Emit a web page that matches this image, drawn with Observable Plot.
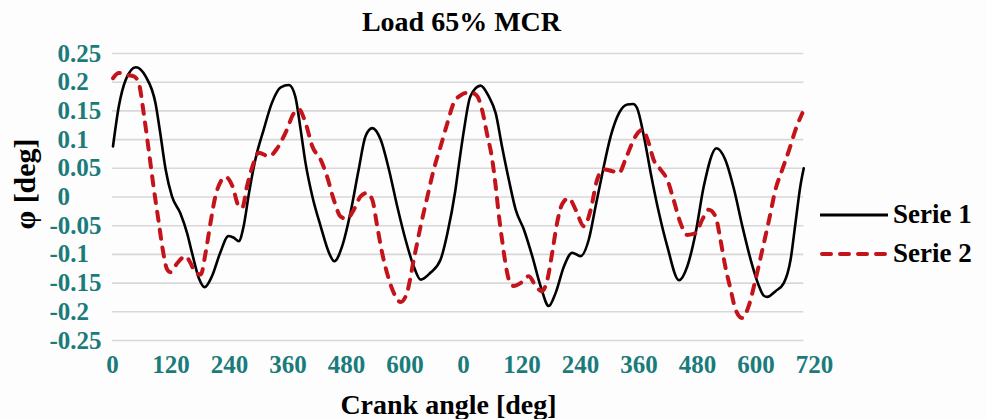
<!DOCTYPE html>
<html>
<head>
<meta charset="utf-8">
<script src="https://cdn.jsdelivr.net/npm/d3@7"></script>
<script src="https://cdn.jsdelivr.net/npm/@observablehq/plot@0.6"></script>
<style>
  body { margin: 0; background: #ffffff; }
  #chart {
    position: relative; width: 987px; height: 419px; background: #fdfdfd;
    font-family: "Liberation Serif", "Times New Roman", serif; font-weight: bold;
  }
  #title {
    height: 40px; width: 923px; text-align: center;
    font-size: 28px; line-height: 40px; padding-top: 2px; box-sizing: border-box; color: #000;
  }
  #legend { position: absolute; left: 820px; top: 195px; }
  .item { display: flex; align-items: center; height: 39px; font-size: 27px; color: #000; }
  .item svg { margin-right: 5px; }
</style>
</head>
<body>
<div id="chart">
  <div id="title">Load 65% MCR</div>
  <div id="legend"></div>
</div>
<script>
// Torsional angle φ over two engine cycles (crank angle restarts at 0 after 720°)
const angle1 = [1, 13, 27, 48, 68, 88, 98, 109, 122, 139, 153, 163, 177, 189, 204, 221, 238, 249, 259, 269,
  280, 293, 310, 327, 345, 362, 375, 386, 396, 410, 427, 444, 455, 471, 488, 505, 519, 533, 550, 567,
  584, 601, 618, 632, 652, 673, 687, 703, 710, 721, 734, 755, 772, 786, 799, 813, 827, 844, 861, 878,
  895, 909, 926, 943, 960, 977, 991, 1005, 1022, 1039, 1056, 1068, 1076, 1090, 1104, 1121, 1138, 1162, 1179, 1196,
  1213, 1239, 1257, 1275, 1292, 1309, 1326, 1336, 1343, 1360, 1377, 1391, 1401, 1411, 1418];
const serie1 = [0.088, 0.158, 0.204, 0.226, 0.21, 0.164, 0.111, 0.048, 0.001, -0.028, -0.063, -0.097, -0.141, -0.157, -0.138, -0.097, -0.068, -0.071, -0.077, -0.051,
  0.007, 0.065, 0.117, 0.164, 0.191, 0.195, 0.175, 0.117, 0.059, 0.001, -0.051, -0.097, -0.112, -0.086, -0.028, 0.048, 0.106, 0.12, 0.1, 0.048,
  -0.016, -0.074, -0.121, -0.144, -0.132, -0.109, -0.063, 0.01, 0.053, 0.117, 0.175, 0.194, 0.175, 0.146, 0.088, 0.03, -0.022, -0.057, -0.103, -0.155,
  -0.19, -0.167, -0.121, -0.097, -0.103, -0.074, -0.016, 0.042, 0.106, 0.146, 0.161, 0.162, 0.155, 0.106, 0.042, -0.028, -0.086, -0.145, -0.121, -0.063,
  0.019, 0.085, 0.065, 0.013, -0.051, -0.109, -0.155, -0.172, -0.174, -0.164, -0.15, -0.109, -0.045, 0.019, 0.05];

const angle2 = [1, 13, 27, 44, 54, 64, 75, 85, 95, 102, 112, 119, 133, 150, 160, 170, 181, 191, 201, 211,
  222, 232, 246, 259, 266, 276, 287, 300, 321, 338, 356, 372, 382, 396, 410, 427, 440, 454, 468, 481,
  495, 509, 522, 533, 543, 553, 563, 577, 591, 604, 618, 632, 646, 659, 673, 687, 700, 714, 724, 738,
  748, 758, 768, 779, 786, 792, 799, 806, 813, 823, 837, 854, 868, 881, 892, 902, 912, 922, 936, 950,
  967, 981, 994, 1008, 1025, 1039, 1052, 1066, 1073, 1087, 1100, 1110, 1124, 1138, 1151, 1165, 1179, 1196, 1210, 1223,
  1237, 1247, 1257, 1268, 1278, 1292, 1305, 1319, 1333, 1347, 1360, 1374, 1388, 1401, 1415];
const serie2 = [0.207, 0.216, 0.213, 0.21, 0.198, 0.146, 0.077, 0.013, -0.045, -0.086, -0.126, -0.131, -0.115, -0.103, -0.115, -0.132, -0.135, -0.097, -0.045, 0.001,
  0.027, 0.035, 0.019, -0.016, -0.019, 0.019, 0.053, 0.077, 0.071, 0.085, 0.114, 0.146, 0.153, 0.129, 0.088, 0.065, 0.036, -0.005, -0.034, -0.038,
  -0.022, 0.001, 0.007, -0.005, -0.051, -0.097, -0.132, -0.167, -0.183, -0.167, -0.109, -0.051, 0.001, 0.048, 0.088, 0.129, 0.164, 0.177, 0.181, 0.181,
  0.176, 0.152, 0.111, 0.065, 0.019, -0.028, -0.074, -0.115, -0.144, -0.155, -0.15, -0.138, -0.155, -0.164, -0.144, -0.097, -0.045, -0.013, -0.002, -0.022,
  -0.051, -0.022, 0.03, 0.048, 0.045, 0.042, 0.065, 0.094, 0.106, 0.117, 0.094, 0.065, 0.048, 0.03, -0.005, -0.045, -0.066, -0.063, -0.039, -0.022,
  -0.034, -0.074, -0.121, -0.161, -0.196, -0.211, -0.19, -0.144, -0.092, -0.039, 0.013, 0.048, 0.082, 0.117, 0.146];

const seriesNames = ["Serie 1", "Serie 2"];
const xTicks = [0, 120, 240, 360, 480, 600, 720, 840, 960, 1080, 1200, 1320, 1440];
const xTickLabels = ["0", "120", "240", "360", "480", "600", "0", "120", "240", "360", "480", "600", "720"];
const yTicks = [0.25, 0.2, 0.15, 0.1, 0.05, 0, -0.05, -0.1, -0.15, -0.2, -0.25];

const teal = "#1b7b7b";
const red = "#c4141b";
const serif = "'Liberation Serif', 'Times New Roman', serif";

const rows1 = angle1.map((a, i) => ({angle: a, phi: serie1[i]}));
const rows2 = angle2.map((a, i) => ({angle: a, phi: serie2[i]}));
const lastAngle = Math.max(angle1[angle1.length - 1], angle2[angle2.length - 1]);

const axisStyle = {tickSize: 0, fill: teal, fontSize: 25, fontWeight: "bold", label: null};

const chart = Plot.plot({
  width: 987,
  height: 379,
  marginLeft: 112,
  marginRight: 173,
  marginTop: 13,
  marginBottom: 79,
  style: {fontFamily: serif, fontWeight: "bold", background: "transparent", overflow: "visible"},
  x: {domain: [0, 1440]},
  y: {domain: [-0.25, 0.25]},
  marks: [
    Plot.ruleY(yTicks, {x1: 0, x2: lastAngle, stroke: "#d8d8d8", strokeWidth: 1.6}),
    Plot.line(rows1, {x: "angle", y: "phi", stroke: "#000", strokeWidth: 2.6, curve: "monotone-x"}),
    Plot.line(rows2, {x: "angle", y: "phi", stroke: red, strokeWidth: 4, strokeDasharray: "9,9",
      strokeLinecap: "round", curve: "monotone-x"}),
    Plot.axisX(xTicks, {...axisStyle, tickPadding: 15, tickFormat: (d) => xTickLabels[xTicks.indexOf(d)]}),
    Plot.axisY(yTicks.filter((d) => d >= 0), {...axisStyle, anchor: "left", tickPadding: 0,
      textAnchor: "start", dx: -55, tickFormat: (d) => String(d)}),
    Plot.axisY(yTicks.filter((d) => d < 0), {...axisStyle, anchor: "left", tickPadding: 0,
      textAnchor: "start", dx: -63, tickFormat: (d) => String(d)}),
    Plot.text(["Crank angle [deg]"], {frameAnchor: "bottom", dx: -15, dy: 73, lineAnchor: "bottom",
      fontSize: 28, fontWeight: "bold", fill: "#000"}),
    Plot.text(["φ [deg]"], {frameAnchor: "left", rotate: -90, dx: -87, dy: -13, lineAnchor: "middle",
      textAnchor: "middle", fontSize: 30, fontWeight: "bold", fill: "#000"})
  ]
});

document.getElementById("chart").appendChild(chart);

// Legend: one swatch line per series, drawn to the right of the plot
const legend = d3.select("#legend");
seriesNames.forEach((name, i) => {
  const item = legend.append("div").attr("class", "item");
  const sw = item.append("svg").attr("width", 68).attr("height", 12);
  const line = sw.append("line").attr("x1", i ? 2 : 0).attr("x2", 68).attr("y1", 6).attr("y2", 6);
  if (i === 0) line.attr("stroke", "#000").attr("stroke-width", 3);
  else line.attr("stroke", red).attr("stroke-width", 4).attr("stroke-dasharray", "9,9").attr("stroke-linecap", "round");
  item.append("span").text(name);
});
</script>
</body>
</html>
